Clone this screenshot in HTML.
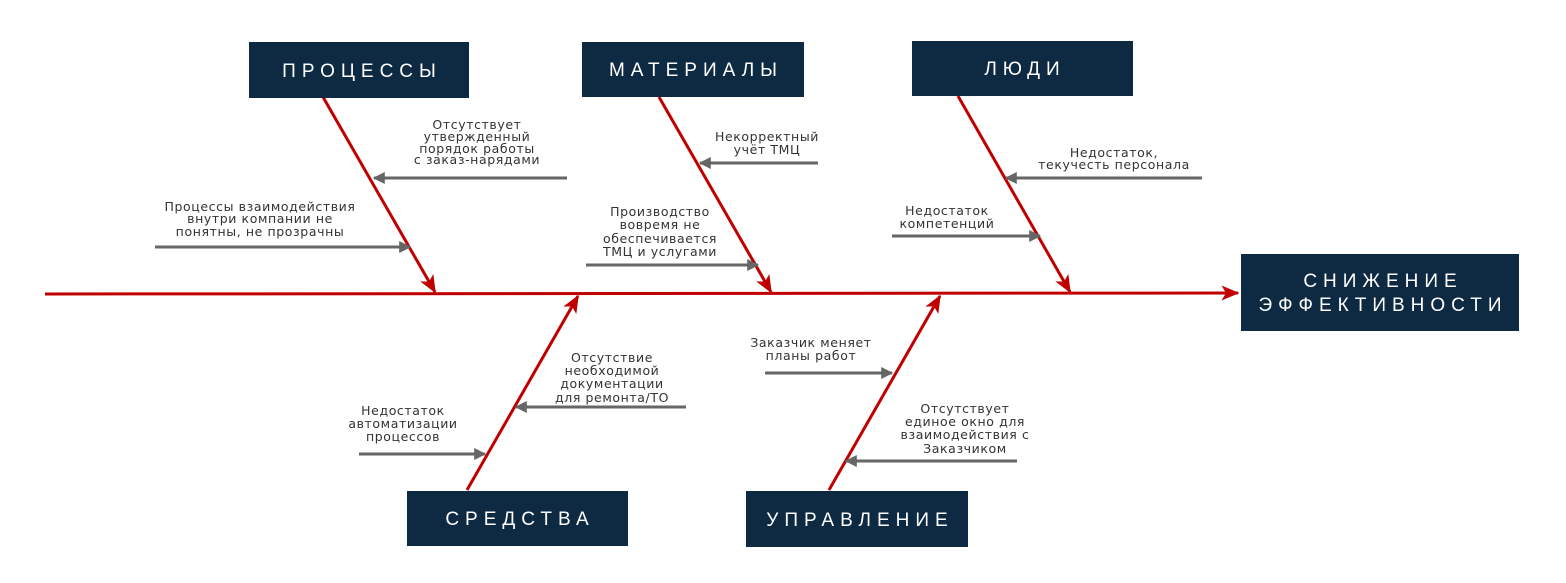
<!DOCTYPE html>
<html><head><meta charset="utf-8"><style>
html,body{margin:0;padding:0;background:#fff;}
svg{display:block;}
.t{font-family:"DejaVu Sans","Liberation Sans",sans-serif;font-size:12.5px;fill:#333;text-anchor:middle;letter-spacing:0.6px;}
.b{font-family:"Liberation Sans","DejaVu Sans",sans-serif;font-size:19px;fill:#fff;text-anchor:middle;letter-spacing:6px;}
</style></head><body>
<svg width="1566" height="583" viewBox="0 0 1566 583" xmlns="http://www.w3.org/2000/svg">
<defs>
<marker id="r" viewBox="0 0 12 10" refX="11" refY="5" markerWidth="6" markerHeight="5" orient="auto" markerUnits="strokeWidth">
<path d="M0,0 L12,5 L0,10 L3,5 z" fill="#c00000"/></marker>
<marker id="g" viewBox="0 0 10 10" refX="9" refY="5" markerWidth="4" markerHeight="4" orient="auto" markerUnits="strokeWidth">
<path d="M0,0 L10,5 L0,10 z" fill="#666"/></marker>
</defs>
<g stroke="#c00000" stroke-width="3" fill="none">
<line x1="45" y1="294" x2="1238" y2="293" marker-end="url(#r)"/>
<line x1="323" y1="97" x2="435" y2="292" marker-end="url(#r)"/>
<line x1="659" y1="97" x2="771" y2="292" marker-end="url(#r)"/>
<line x1="958" y1="96" x2="1070" y2="292" marker-end="url(#r)"/>
<line x1="467" y1="490" x2="578" y2="296" marker-end="url(#r)"/>
<line x1="829" y1="490" x2="940" y2="296" marker-end="url(#r)"/>
</g>
<g stroke="#666" stroke-width="3" fill="none" marker-end="url(#g)">
<line x1="567" y1="178" x2="374" y2="178"/>
<line x1="155" y1="247" x2="410" y2="247"/>
<line x1="818" y1="163" x2="700" y2="163"/>
<line x1="586" y1="265" x2="758" y2="265"/>
<line x1="1202" y1="178" x2="1006" y2="178"/>
<line x1="892" y1="236" x2="1040" y2="236"/>
<line x1="686" y1="407" x2="516" y2="407"/>
<line x1="359" y1="454" x2="485" y2="454"/>
<line x1="765" y1="373" x2="892" y2="373"/>
<line x1="1017" y1="461" x2="846" y2="461"/>
</g>
<g fill="#0e2a42">
<rect x="249" y="42" width="220" height="56"/>
<rect x="582" y="42" width="222" height="55"/>
<rect x="912" y="41" width="221" height="55"/>
<rect x="1241" y="254" width="278" height="77"/>
<rect x="407" y="491" width="221" height="55"/>
<rect x="746" y="491" width="222" height="56"/>
</g>
<text class="b" x="362" y="77">ПРОЦЕССЫ</text>
<text class="b" x="696" y="76">МАТЕРИАЛЫ</text>
<text class="b" x="1025" y="75">ЛЮДИ</text>
<text class="b" x="1383" y="287">СНИЖЕНИЕ</text>
<text class="b" x="1383" y="311">ЭФФЕКТИВНОСТИ</text>
<text class="b" x="520" y="525">СРЕДСТВА</text>
<text class="b" x="860" y="526">УПРАВЛЕНИЕ</text>
<text class="t"><tspan x="477" y="129">Отсутствует</tspan><tspan x="477" y="141">утвержденный</tspan><tspan x="477" y="153">порядок работы</tspan><tspan x="477" y="164">с заказ-нарядами</tspan></text>
<text class="t"><tspan x="260" y="211">Процессы взаимодействия</tspan><tspan x="260" y="223">внутри компании не</tspan><tspan x="260" y="236">понятны, не прозрачны</tspan></text>
<text class="t"><tspan x="767" y="141">Некорректный</tspan><tspan x="767" y="154">учёт ТМЦ</tspan></text>
<text class="t"><tspan x="660" y="216">Производство</tspan><tspan x="660" y="229">вовремя не</tspan><tspan x="660" y="243">обеспечивается</tspan><tspan x="660" y="256">ТМЦ и услугами</tspan></text>
<text class="t"><tspan x="1114" y="157">Недостаток,</tspan><tspan x="1114" y="169">текучесть персонала</tspan></text>
<text class="t"><tspan x="947" y="215">Недостаток</tspan><tspan x="947" y="228">компетенций</tspan></text>
<text class="t"><tspan x="612" y="362">Отсутствие</tspan><tspan x="612" y="375">необходимой</tspan><tspan x="612" y="388">документации</tspan><tspan x="612" y="402">для ремонта/ТО</tspan></text>
<text class="t"><tspan x="403" y="415">Недостаток</tspan><tspan x="403" y="428">автоматизации</tspan><tspan x="403" y="441">процессов</tspan></text>
<text class="t"><tspan x="811" y="347">Заказчик меняет</tspan><tspan x="811" y="360">планы работ</tspan></text>
<text class="t"><tspan x="965" y="413">Отсутствует</tspan><tspan x="965" y="426">единое окно для</tspan><tspan x="965" y="439">взаимодействия с</tspan><tspan x="965" y="453">Заказчиком</tspan></text>
</svg>
</body></html>
